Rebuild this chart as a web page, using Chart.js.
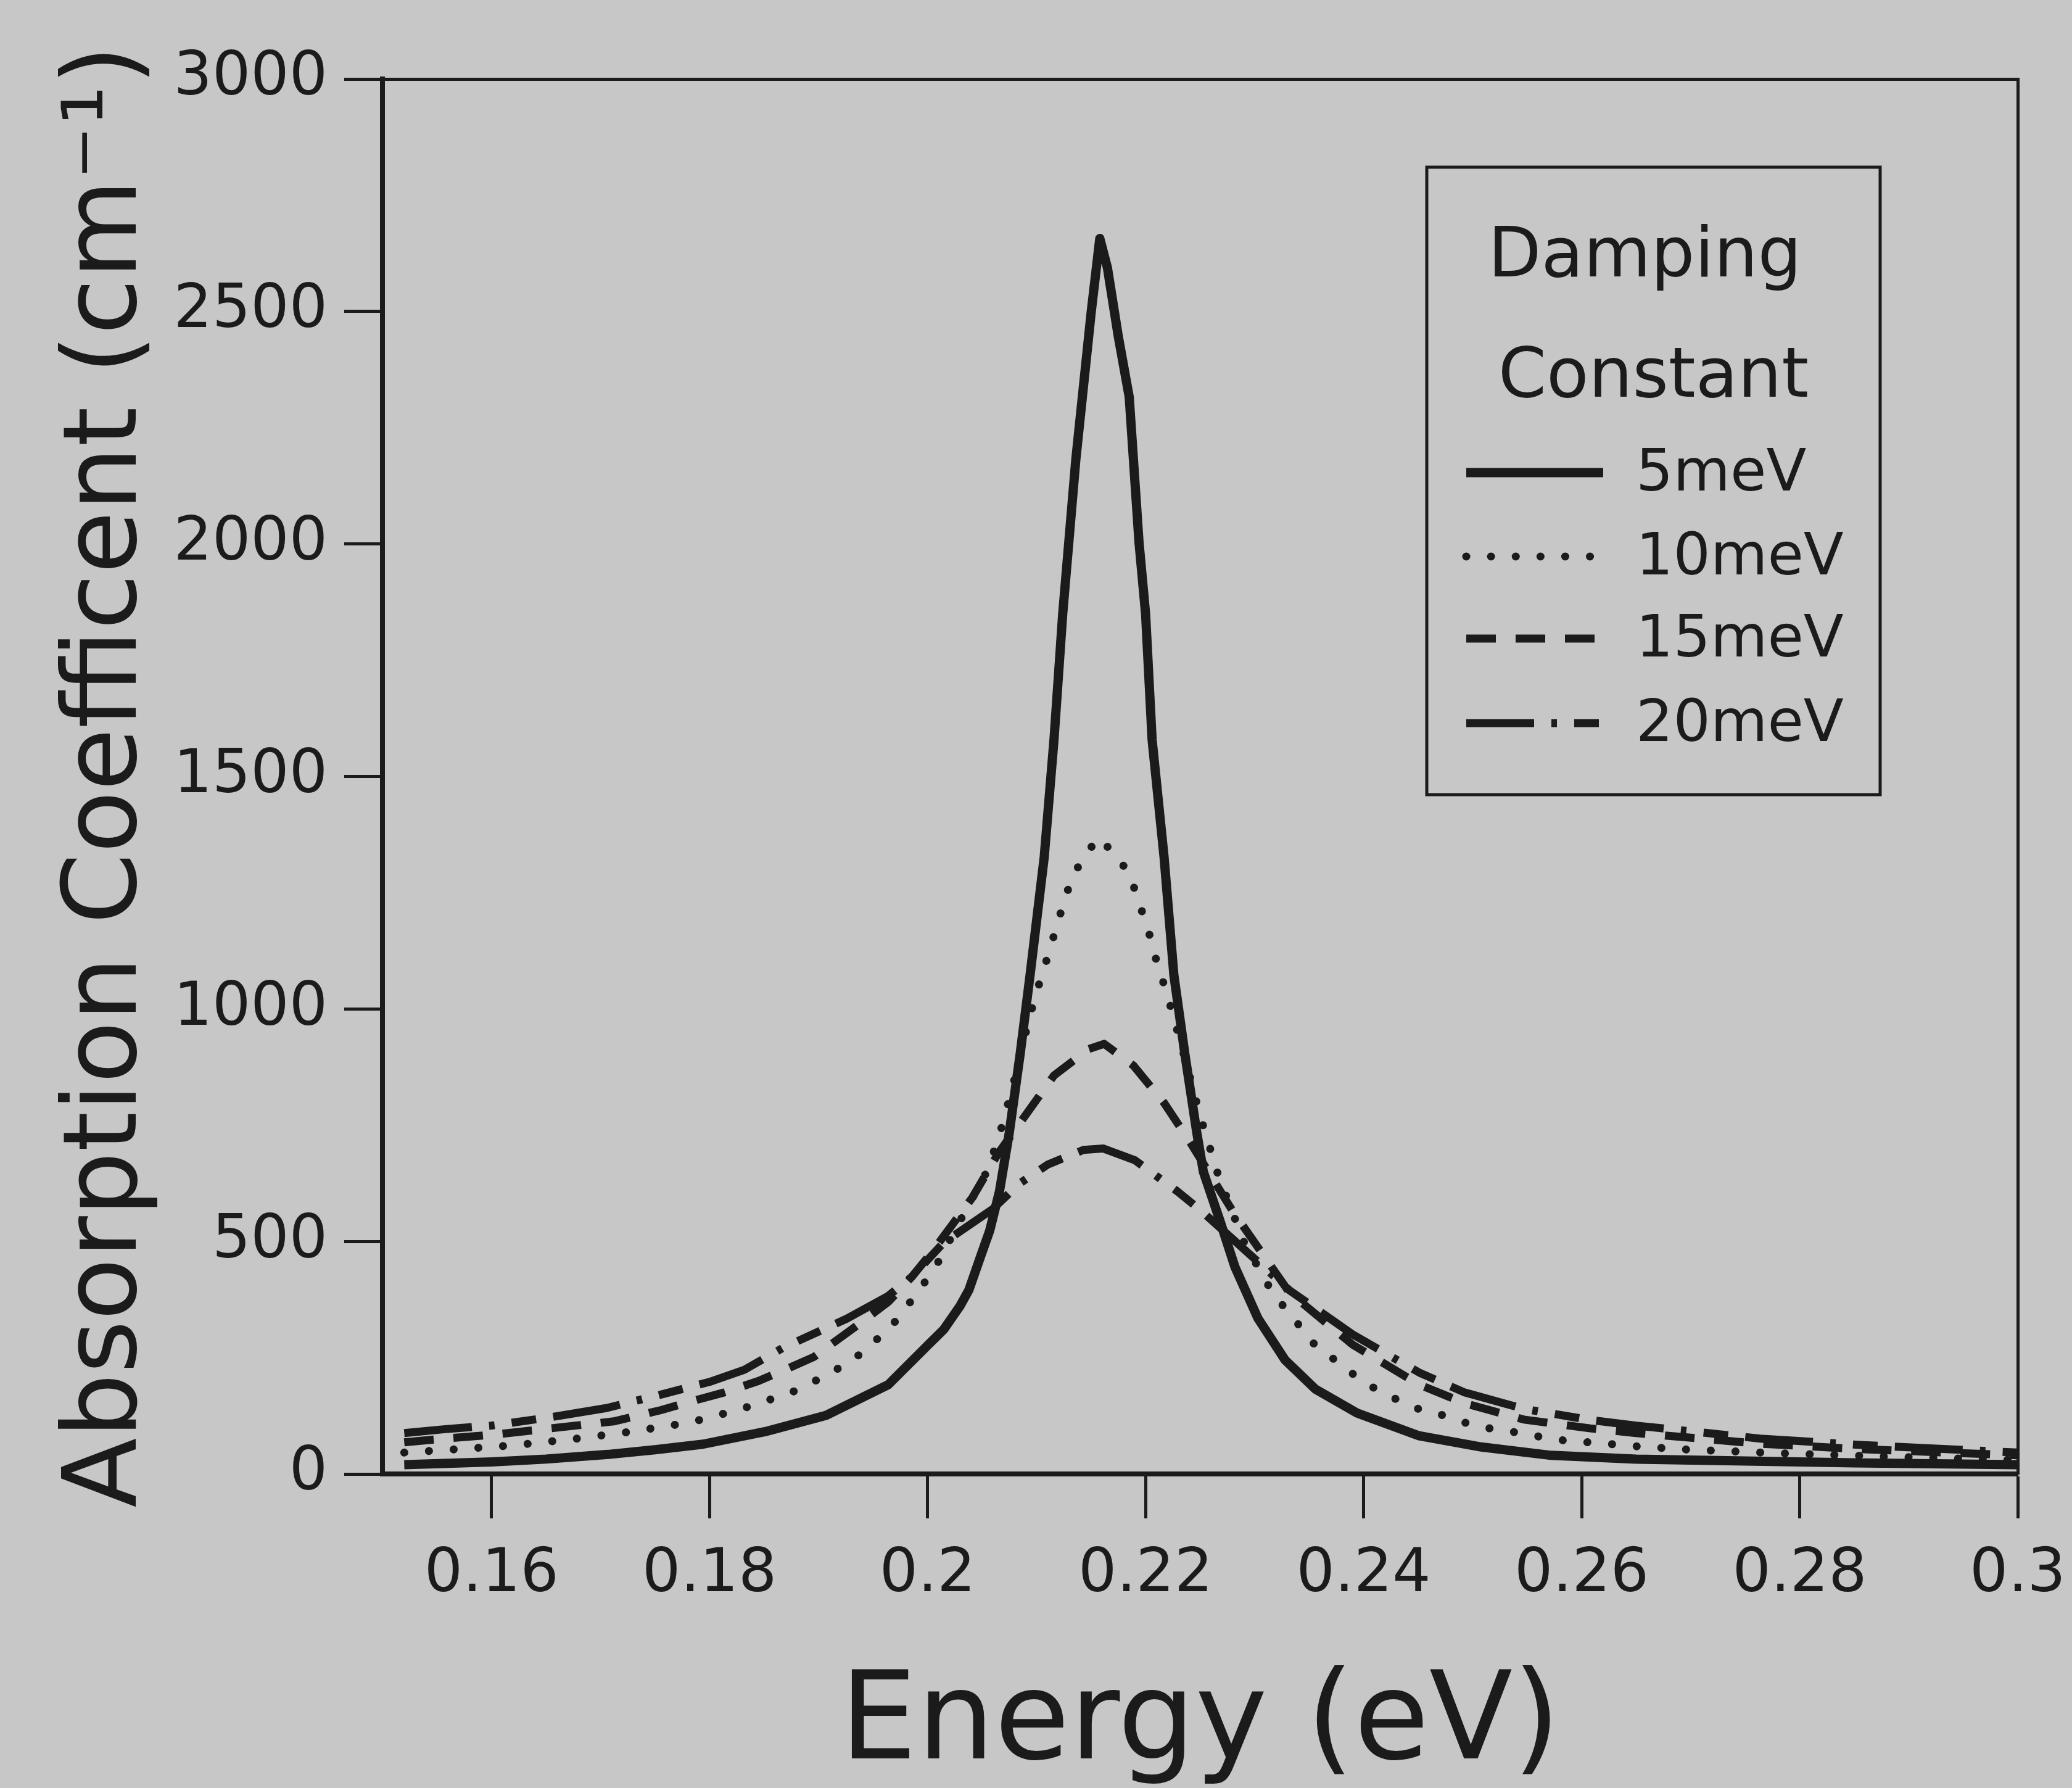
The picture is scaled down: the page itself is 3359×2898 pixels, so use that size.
<!DOCTYPE html>
<html>
<head>
<meta charset="utf-8">
<script src="https://cdn.jsdelivr.net/npm/chart.js@4.4.1/dist/chart.umd.min.js"></script>
<style>
html,body{margin:0;padding:0;background:#c7c7c7;}
#wrap{width:3359px;height:2898px;}
canvas{display:block;}
</style>
</head>
<body>
<div id="wrap"><canvas id="c" width="3359" height="2898"></canvas></div>
<script>
// ---------- data ----------
const seriesLabels = ['5meV', '10meV', '15meV', '20meV'];
const legendTitle = ['Damping', 'Constant'];
const xTitle = 'Energy (eV)';
const yTitle = 'Absorption Coefficent (cm\u207B\u00B9)';

const xTicks = [0.16, 0.18, 0.20, 0.22, 0.24, 0.26, 0.28, 0.30];
const yTicks = [0, 500, 1000, 1500, 2000, 2500, 3000];

const energy5 = [0.152,0.156,0.160,0.165,0.1707,0.175,0.1794,0.1851,0.1907,0.1964,0.2002,0.2015,0.2030,0.2038,0.2049,0.2057,0.2066,0.2075,0.2085,0.2094,0.2107,0.2116,0.2124,0.2136,0.2150,0.2158,0.2165,0.2175,0.2185,0.2194,0.2200,0.2206,0.2217,0.2226,0.2236,0.2247,0.2253,0.2268,0.2282,0.2303,0.2328,0.2356,0.2394,0.2451,0.2508,0.2572,0.265,0.275,0.285,0.300];
const alpha5  = [20,23,26,32,42,52,64,91,126,192,281,311,362,396,470,523,608,734,904,1072,1326,1579,1850,2181,2496,2657,2594,2446,2316,2003,1850,1579,1326,1072,904,734,650,546,445,335,245,182,131,82,58,40,32,28,24,20];

const energy10 = [0.152,0.156,0.1611,0.1634,0.1678,0.1722,0.1767,0.1789,0.1812,0.1832,0.1853,0.1875,0.1896,0.1916,0.1934,0.1951,0.1968,0.1981,0.1995,0.2008,0.2030,0.2055,0.2066,0.2078,0.2088,0.2099,0.2106,0.2112,0.2119,0.2125,0.2133,0.2143,0.2157,0.2171,0.2185,0.2192,0.2199,0.2206,0.2211,0.2218,0.2224,0.2240,0.2250,0.2267,0.2290,0.2313,0.2325,0.2339,0.2354,0.2372,0.2389,0.2407,0.2427,0.2447,0.2469,0.2492,0.2513,0.2536,0.2557,0.2580,0.2601,0.2623,0.2647,0.270,0.280,0.290,0.300];
const alpha10  = [46,52,60,65,76,89,105,115,129,142,158,175,199,224,250,284,321,360,404,448,545,653,729,832,930,1030,1079,1128,1181,1231,1284,1326,1369,1334,1292,1243,1193,1142,1093,1045,997,860,770,640,500,404,365,325,281,248,217,188,164,142,129,111,99,91,82,73,69,65,60,52,43,36,30];

const energy15 = [0.152,0.1556,0.160,0.1654,0.1712,0.1755,0.1794,0.1813,0.1845,0.1873,0.1896,0.1930,0.1964,0.1986,0.2005,0.2041,0.2065,0.2090,0.2116,0.2148,0.2162,0.2189,0.2217,0.2241,0.2280,0.2332,0.2390,0.2451,0.2493,0.2547,0.2608,0.2650,0.2764,0.2859,0.300];
const alpha15  = [68,76,84,98,113,137,163,175,200,228,252,310,370,425,480,594,690,772,857,914,925,878,798,713,565,390,278,192,152,117,98,88,65,53,40];

const energy20 = [0.152,0.1556,0.160,0.1654,0.1706,0.1756,0.1800,0.1832,0.1850,0.1868,0.1926,0.1964,0.1986,0.2015,0.2060,0.2084,0.2110,0.2143,0.2161,0.2190,0.2229,0.2249,0.2280,0.2332,0.2390,0.2451,0.2493,0.2547,0.2608,0.2650,0.2764,0.2859,0.300];
const alpha20  = [88,96,104,122,142,171,198,224,248,272,334,383,425,498,570,624,665,697,700,675,608,570,505,395,300,218,175,140,116,104,76,62,46];

// ---------- styling ----------
const INK = '#1b1b1b';
const BG = '#c7c7c7';
const FONT = "'DejaVu Sans', sans-serif";

function pts(xs, ys) { return xs.map((x, i) => ({ x: x, y: ys[i] })); }

const datasets = [
  { label: seriesLabels[0], data: pts(energy5, alpha5), borderColor: INK, borderWidth: 15, borderDash: [], borderCapStyle: 'butt', borderJoinStyle: 'round' },
  { label: seriesLabels[1], data: pts(energy10, alpha10), borderColor: INK, borderWidth: 13, borderDash: [0.1, 40], borderCapStyle: 'round', borderJoinStyle: 'round' },
  { label: seriesLabels[2], data: pts(energy15, alpha15), borderColor: INK, borderWidth: 13, borderDash: [48, 32], borderCapStyle: 'butt', borderJoinStyle: 'round' },
  { label: seriesLabels[3], data: pts(energy20, alpha20), borderColor: INK, borderWidth: 13, borderDash: [110, 28, 9, 28, 40, 28], borderCapStyle: 'butt', borderJoinStyle: 'round' }
].map(d => Object.assign(d, { pointRadius: 0, fill: false, tension: 0 }));

const bgPlugin = {
  id: 'bg',
  beforeDraw(chart) {
    const ctx = chart.ctx;
    ctx.save();
    ctx.fillStyle = BG;
    ctx.fillRect(0, 0, chart.width, chart.height);
    ctx.restore();
  }
};

const boxLegend = {
  id: 'boxLegend',
  afterDraw(chart) {
    const ctx = chart.ctx;
    const ca = chart.chartArea;
    const L = ca.left + 1693, T = ca.top + 143, W = 735, H = 1017;
    ctx.save();
    ctx.strokeStyle = INK;
    ctx.lineWidth = 5;
    ctx.setLineDash([]);
    ctx.strokeRect(L, T, W, H);
    ctx.fillStyle = INK;
    ctx.textAlign = 'center';
    ctx.textBaseline = 'alphabetic';
    ctx.font = '112px ' + FONT;
    ctx.fillText(legendTitle[0], L + W / 2 - 14, T + 177);
    ctx.fillText(legendTitle[1], L + W / 2, T + 372);
    const rows = [495, 631, 764, 901];
    ctx.font = '95px ' + FONT;
    ctx.textAlign = 'left';
    ctx.textBaseline = 'middle';
    chart.data.datasets.forEach((ds, i) => {
      const y = T + rows[i];
      ctx.save();
      ctx.strokeStyle = ds.borderColor;
      ctx.lineWidth = ds.borderWidth;
      ctx.lineCap = ds.borderCapStyle;
      ctx.setLineDash(ds.borderDash || []);
      ctx.beginPath();
      ctx.moveTo(L + 64, y);
      ctx.lineTo(L + 286, y);
      ctx.stroke();
      ctx.restore();
      ctx.fillText(ds.label, L + 339, y + 4);
    });
    ctx.restore();
  }
};

new Chart(document.getElementById('c'), {
  type: 'line',
  data: { datasets: datasets },
  plugins: [bgPlugin, boxLegend],
  options: {
    responsive: false,
    devicePixelRatio: 1,
    animation: false,
    events: [],
    layout: { padding: { left: 0, right: 88, top: 128, bottom: 0 } },
    plugins: { legend: { display: false }, title: { display: false }, tooltip: { enabled: false } },
    scales: {
      x: {
        type: 'linear', position: 'bottom', min: 0.15, max: 0.30,
        afterBuildTicks: s => { s.ticks = xTicks.map(v => ({ value: v })); },
        afterFit: s => { s.height = 509; s.paddingLeft = 0; s.paddingRight = 0; },
        ticks: { color: INK, font: { family: FONT, size: 98 }, padding: 34, maxRotation: 0, autoSkip: false,
                 callback: v => String(+(+v).toFixed(2)) },
        grid: { display: true, drawOnChartArea: false, drawTicks: true, tickLength: 72, tickWidth: 5, tickColor: INK, color: INK },
        border: { display: true, width: 8, color: INK },
        title: { display: true, text: xTitle, color: INK, font: { family: FONT, size: 198, lineHeight: 1 }, padding: { top: 0, bottom: 0 } }
      },
      y: {
        type: 'linear', position: 'left', min: 0, max: 3000,
        afterBuildTicks: s => { s.ticks = yTicks.map(v => ({ value: v })); },
        afterFit: s => { s.width = 620; },
        ticks: { color: INK, font: { family: FONT, size: 98 }, padding: 27, autoSkip: false,
                 callback: v => String(v) },
        grid: { display: true, drawOnChartArea: false, drawTicks: true, tickLength: 62, tickWidth: 5, tickColor: INK, color: INK },
        border: { display: true, width: 8, color: INK },
        title: { display: true, text: yTitle, color: INK, font: { family: FONT, size: 165, lineHeight: 1 }, padding: { top: 95, bottom: 0 } }
      },
      x2: {
        type: 'linear', position: 'top', min: 0.15, max: 0.30,
        afterFit: s => { s.height = 0; s.paddingLeft = 0; s.paddingRight = 0; },
        ticks: { display: false },
        grid: { display: true, drawOnChartArea: false, drawTicks: false },
        border: { display: true, width: 5, color: INK }
      },
      y2: {
        type: 'linear', position: 'right', min: 0, max: 3000,
        afterFit: s => { s.width = 0; },
        ticks: { display: false },
        grid: { display: true, drawOnChartArea: false, drawTicks: false },
        border: { display: true, width: 5, color: INK }
      }
    }
  }
});
</script>
</body>
</html>
